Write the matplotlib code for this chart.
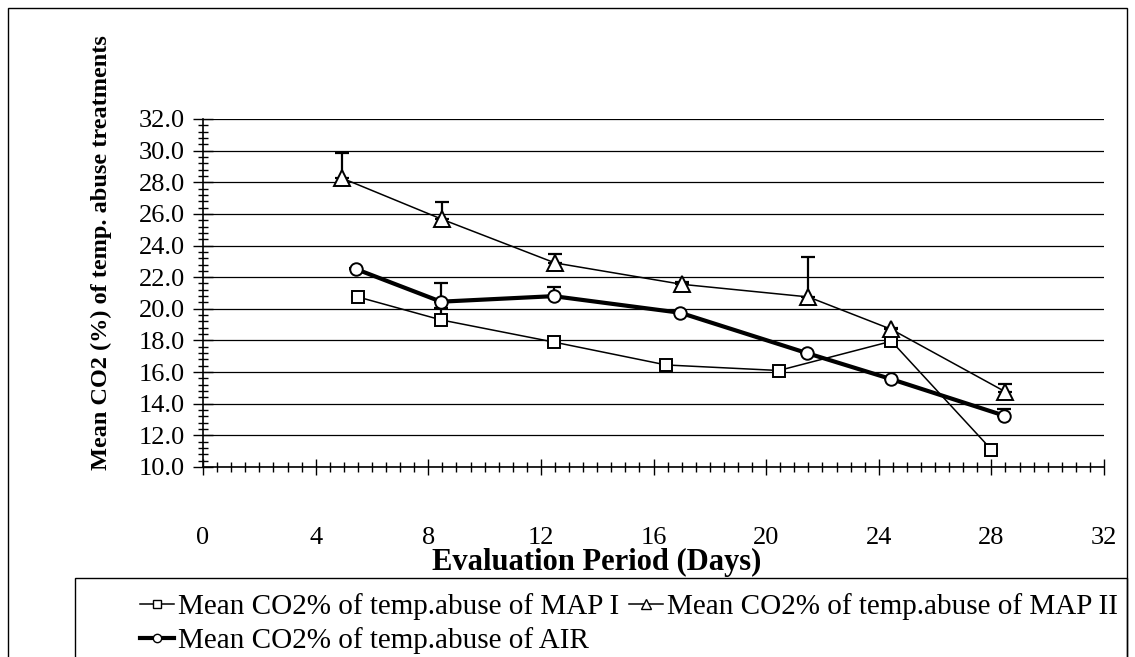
import matplotlib
matplotlib.use('Agg')
import matplotlib.pyplot as plt
from matplotlib.lines import Line2D
from matplotlib.patches import Rectangle
from matplotlib.ticker import MultipleLocator, FormatStrFormatter

plt.rcParams['font.family'] = ['Liberation Serif', 'DejaVu Serif']

# Mean CO2 (%) readings
days_map1 = [5.5, 8.45, 12.45, 16.45, 20.45, 24.45, 28.0]
co2_map1 = [20.75, 19.3, 17.9, 16.45, 16.1, 17.95, 11.1]
err_map1 = [0.0, 0.75, 0.0, 0.28, 0.0, 0.05, 0.05]

days_map2 = [4.95, 8.5, 12.5, 17.0, 21.5, 24.45, 28.5]
co2_map2 = [28.25, 25.65, 22.9, 21.55, 20.75, 18.7, 14.75]
err_map2 = [1.6, 1.1, 0.55, 0.15, 2.5, 0.1, 0.5]

days_air = [5.45, 8.45, 12.45, 16.95, 21.45, 24.45, 28.45]
co2_air = [22.5, 20.45, 20.8, 19.75, 17.2, 15.55, 13.25]
err_air = [0.05, 1.2, 0.6, 0.05, 0.0, 0.0, 0.4]

labels = ['Mean CO2% of temp.abuse of MAP I',
          'Mean CO2% of temp.abuse of MAP II',
          'Mean CO2% of temp.abuse of AIR']

fig = plt.figure(figsize=(11.35, 6.57), dpi=100)
ax = fig.add_axes([0.1789, 0.2892, 0.7938, 0.5297])

series = [
    (days_map1, co2_map1, err_map1, 's', 9, 1.1, 9),
    (days_map2, co2_map2, err_map2, '^', 11, 1.1, 10),
    (days_air, co2_air, err_air, 'o', 9, 3.0, 11),
]
for x, y, e, m, ms, lw, z in series:
    ax.errorbar(x, y, yerr=[[0] * len(e), e], fmt='none', ecolor='black',
                elinewidth=1.6, capsize=5, capthick=1.6, zorder=5)
    ax.plot(x, y, color='black', lw=lw, marker=m, ms=ms, mfc='white',
            mec='black', mew=1.4, zorder=z)

ax.set_xlim(0, 32)
ax.set_ylim(10, 32)
ax.xaxis.set_major_locator(MultipleLocator(4))
ax.xaxis.set_minor_locator(MultipleLocator(0.5))
ax.yaxis.set_major_locator(MultipleLocator(2))
ax.yaxis.set_minor_locator(MultipleLocator(0.4))
ax.yaxis.set_major_formatter(FormatStrFormatter('%.1f'))

ax.tick_params(axis='x', which='major', direction='inout', length=11,
               width=1, pad=38, labelsize=19)
ax.tick_params(axis='x', which='minor', direction='inout', length=7, width=1)
ax.tick_params(axis='y', which='major', direction='inout', length=14,
               width=1, pad=6, labelsize=19)
ax.tick_params(axis='y', which='minor', direction='inout', length=7, width=1)

ax.grid(axis='y', which='major', color='black', lw=0.9)
ax.get_ygridlines()[-1].set_color('#d8d8d8')
ax.spines['right'].set_visible(False)
ax.spines['top'].set_visible(False)
for s in ['left', 'bottom']:
    ax.spines[s].set_linewidth(1.2)
ax.set_axisbelow(True)

fig.text(0.526, 1 - 562 / 657, 'Evaluation Period (Days)', ha='center',
         va='center', fontsize=22, fontweight='bold')
fig.text(0.089, 0.616, 'Mean CO2 (%) of temp. abuse treatments', ha='center',
         va='center', rotation=90, fontsize=17.5, fontweight='bold')

# outer border and legend box
fig.patches.append(Rectangle((8 / 1135, -0.1), 1119 / 1135, 1.1 - 8 / 657,
                             transform=fig.transFigure, fill=False,
                             edgecolor='black', lw=1))
fig.patches.append(Rectangle((75 / 1135, -0.1), 1052 / 1135, 0.1 + 79 / 657,
                             transform=fig.transFigure, fill=False,
                             edgecolor='black', lw=1))

handles = [
    Line2D([], [], color='black', lw=1.1, marker='s', ms=6, mfc='white', mec='black'),
    Line2D([], [], color='black', lw=1.1, marker='^', ms=7, mfc='white', mec='black'),
    Line2D([], [], color='black', lw=3.0, marker='o', ms=6, mfc='white', mec='black'),
]
order = [0, 2, 1]
fig.legend([handles[i] for i in order], [labels[i] for i in order],
           loc='upper left', bbox_to_anchor=(140 / 1135, 1 - 593 / 657),
           ncol=2, frameon=False, fontsize=21, handlelength=1.15,
           handletextpad=0.15, columnspacing=0.35, labelspacing=0.25,
           borderpad=0, borderaxespad=0)

fig.savefig('out.png', dpi=100)
